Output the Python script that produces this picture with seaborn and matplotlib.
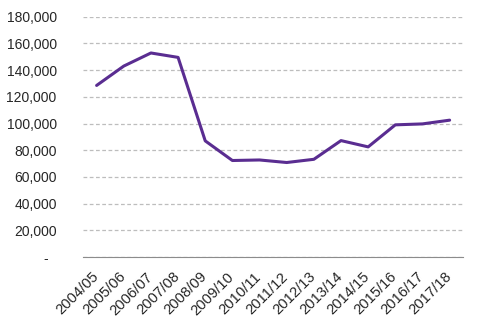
import matplotlib
matplotlib.use("Agg")
import matplotlib.pyplot as plt
import matplotlib.ticker as mticker
import matplotlib.transforms as mtrans
import pandas as pd
import seaborn as sns

years = ["2004/05", "2005/06", "2006/07", "2007/08", "2008/09", "2009/10",
         "2010/11", "2011/12", "2012/13", "2013/14", "2014/15", "2015/16",
         "2016/17", "2017/18"]
values = [128500, 143000, 152800, 149500, 87000, 72300, 72700, 70800,
          73200, 87200, 82500, 99000, 99700, 102500]

df = pd.DataFrame({"year": years, "value": values})

sns.set_style("white")
plt.rcParams["font.family"] = ["Liberation Sans", "DejaVu Sans"]

fig, ax = plt.subplots(figsize=(4.8, 3.33), dpi=100)
sns.lineplot(data=df, x="year", y="value", color="#5a2d91", linewidth=2.2,
             sort=False, ax=ax)

ax.set_xlim(-0.5, len(years) - 0.5)
ax.set_ylim(0, 180000)
ax.yaxis.set_major_locator(mticker.MultipleLocator(20000))
ax.yaxis.set_major_formatter(
    mticker.FuncFormatter(lambda v, p: "-  " if v == 0 else f"{int(v):,}"))
ax.grid(axis="y", color="#bdbdbd", linestyle=(0, (3, 2)), linewidth=0.9)
ax.set_axisbelow(True)

# ticks between categories, labels at the centres
ax.set_xticks(range(len(years)))
ax.set_xticklabels(years, rotation=45, ha="right", rotation_mode="anchor")
ax.set_xticks([i - 0.5 for i in range(len(years) + 1)], minor=True)
ax.tick_params(axis="x", which="major", length=0, pad=9, labelsize=10.6)
ax.tick_params(axis="x", which="minor", length=4, color="#8c8c8c", width=1)
ax.tick_params(axis="y", length=0, labelsize=10, pad=19)

# nudge the rotated labels a little to the left
shift = mtrans.ScaledTranslation(-4 / 72, 0, fig.dpi_scale_trans)
for lab in ax.get_xticklabels():
    lab.set_transform(lab.get_transform() + shift)

for s in ["top", "right", "left"]:
    ax.spines[s].set_visible(False)
ax.spines["bottom"].set_color("#8c8c8c")
ax.set_xlabel("")
ax.set_ylabel("")

fig.subplots_adjust(left=0.173, right=0.965, top=0.95, bottom=0.228)
fig.savefig("out.png", dpi=100)
